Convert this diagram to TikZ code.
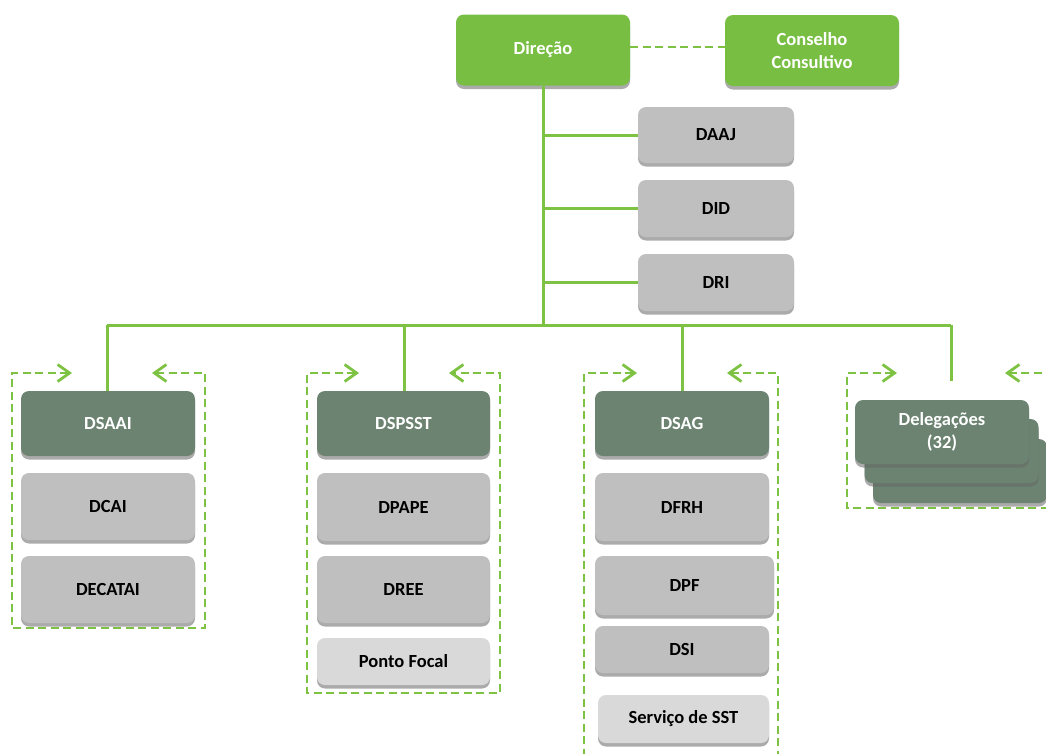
\documentclass[tikz,border=0pt]{standalone}
\usepackage{fontspec}
\setmainfont{Carlito}
\usetikzlibrary{shadows,arrows.meta}
\definecolor{brgreen}{HTML}{78BE43}
\definecolor{dkgreen}{HTML}{6B8370}
\definecolor{boxgray}{HTML}{BFBFBF}
\definecolor{lgray}{HTML}{D9D9D9}
\definecolor{lgreen}{HTML}{7DC242}
\tikzset{
  box/.style={rounded corners=8pt, minimum width=174pt, align=center, inner sep=0pt,
    font=\fontsize{18.5}{23}\selectfont\bfseries,
    drop shadow={shadow xshift=0pt, shadow yshift=-3.5pt, fill=black!60, opacity=0.55}},
  topbox/.style={box, fill=brgreen, text=white, minimum height=71pt},
  headbox/.style={box, fill=dkgreen, text=white, minimum height=65pt},
  graybox/.style={box, fill=boxgray, text=black},
  lightbox/.style={box, fill=lgray, text=black},
  link/.style={draw=lgreen, line width=3pt},
  dframe/.style={draw=lgreen, line width=2.8pt, dash pattern=on 8pt off 4.5pt},
  barb/.tip={Straight Barb[length=12pt,width=17pt,line width=2.8pt]}
}
\begin{document}
\begin{tikzpicture}[x=1pt,y=-1pt]
\useasboundingbox (0,0) rectangle (1046,753);
% top
\node[topbox] (dir) at (543,50) {Direção};
\node[topbox] (cons) at (812,50.5) {Conselho\\Consultivo};
\node[graybox, minimum width=156pt, minimum height=56pt] (daaj) at (716,135) {DAAJ};
\node[graybox, minimum width=156pt, minimum height=57pt] (did) at (716,208.5) {DID};
\node[graybox, minimum width=156pt, minimum height=57pt] (dri) at (716,282.5) {DRI};
\draw[dframe] (dir.east |- 0,47) -- (cons.west |- 0,47);
\coordinate (bus) at (543,325);
\coordinate (busL) at (107,325);
\coordinate (busR) at (951,325);
\draw[link] (dir.south) -- (bus);
\draw[link] (busL) -- (busR);
\draw[link] (daaj.west) -- (daaj.west -| bus);
\draw[link] (did.west) -- (did.west -| bus);
\draw[link] (dri.west) -- (dri.west -| bus);
% column 1
\node[headbox] (dsaai) at (108,423.5) {DSAAI};
\node[graybox, minimum height=67pt] (dcai) at (108,506.5) {DCAI};
\node[graybox, minimum height=67pt] (decatai) at (108,589.5) {DECATAI};
\draw[link] (busL) -- (dsaai.north -| busL);
\draw[dframe, barb-barb] (72,373) -- (12,373) -- (12,628) -- (205,628) -- (205,373) -- (152,373);
% column 2
\coordinate (bus2) at (404,325);
\node[headbox, minimum width=173pt] (dspsst) at (403.5,423.5) {DSPSST};
\node[graybox, minimum width=173pt, minimum height=68pt] (dpape) at (403.5,507) {DPAPE};
\node[graybox, minimum width=173pt, minimum height=67pt] (dree) at (403.5,589.5) {DREE};
\node[lightbox, minimum width=173pt, minimum height=47pt] (ponto) at (403.5,661.5) {Ponto Focal};
\draw[link] (bus2) -- (dspsst.north -| bus2);
\draw[dframe, barb-barb] (359,373) -- (307,373) -- (307,693) -- (500,693) -- (500,373) -- (449,373);
% column 3
\coordinate (bus3) at (682,325);
\node[headbox] (dsag) at (682,423.5) {DSAG};
\node[graybox, minimum height=68pt] (dfrh) at (682,507) {DFRH};
\node[graybox, minimum width=179pt, minimum height=59pt] (dpf) at (684.5,585.5) {DPF};
\node[graybox, minimum height=47pt] (dsi) at (682,649.5) {DSI};
\node[lightbox, minimum width=171pt, minimum height=48pt] (sst) at (683.5,719) {Serviço de SST};
\draw[link] (bus3) -- (dsag.north -| bus3);
\draw[dframe, barb-] (637,373) -- (584,373) -- (584,765);
\draw[dframe, barb-] (727,373) -- (778,373) -- (778,765);
% column 4
\node[box, fill=dkgreen, minimum height=64pt] (del3) at (960,471) {};
\node[box, fill=dkgreen, minimum height=64pt] (del2) at (951.5,451) {};
\node[box, fill=dkgreen, text=white, minimum height=64pt] (del) at (942,432) {Delegações\\(32)};
\coordinate (delend) at (951,381);
\draw[link] (busR) -- (delend);
\draw[dframe, barb-] (897,373) -- (847,373) -- (847,508) -- (1060,508);
\draw[dframe, barb-] (1005,373) -- (1060,373);
\end{tikzpicture}
\end{document}
